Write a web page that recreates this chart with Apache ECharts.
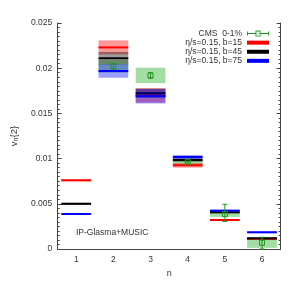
<!DOCTYPE html>
<html>
<head>
<meta charset="utf-8">
<script src="https://cdn.jsdelivr.net/npm/echarts@6/dist/echarts.min.js"></script>
<style>html,body{margin:0;padding:0;background:#fff}#c{width:291px;height:291px}</style>
</head>
<body>
<div id="c"></div>
<script>
// ---- data ----
const categories = ['1', '2', '3', '4', '5', '6'];
const yTicks = [0, 0.005, 0.01, 0.015, 0.02, 0.025];

const b15Vals = [0.0076, 0.0223, 0.0170, 0.00926, 0.00321, 0.00114];
const b15Errs = [0.00012, 0.00078, 0.0008, 0.00026, 0.00008, 0.0001];
const b45Vals = [0.0050, 0.0211, 0.01724, 0.00985, 0.00406, 0.00118];
const b45Errs = [0.00012, 0.0007, 0.0005, 0.0002, 0.0001, 0.0001];
const b75Vals = [0.00387, 0.01969, 0.0169, 0.01018, 0.00424, 0.00185];
const b75Errs = [0.0001, 0.00075, 0.0008, 0.00022, 0.0001, 0.0001];

const cmsN = ['2', '3', '4', '5', '6'];
const cmsVals = [0.0202, 0.0192, 0.0096, 0.00385, 0.0007];
const cmsStatUp = [0.0003, 0.0003, 0.0001, 0.0011, 0.0006];
const cmsStatDown = [0.0003, 0.0003, 0.0001, 0.0008, 0.0007];
const cmsSys = [0.0007, 0.00085, 0.0003, 0.0003, 0.00058];

const FONT = 'Liberation Sans';
const TXT = '#333';
const AX = '#444';
const GREEN = '#1e961e';

function modelSeries(name, color, band, vals, errs) {
  return {
    type: 'custom', name: name, z: 3,
    itemStyle: { color: color },
    data: vals.map((v, i) => [i, v, errs[i]]),
    encode: { x: 0, y: 1 },
    renderItem: function (params, api) {
      const x = api.value(0), v = api.value(1), e = api.value(2);
      const c = api.coord([x, v]);
      const hi = api.coord([x, v + e]);
      const lo = api.coord([x, v - e]);
      const bw = api.size([1, 0])[0] * 0.8;
      return { type: 'group', children: [
        { type: 'rect', shape: { x: c[0] - bw / 2, y: hi[1], width: bw, height: lo[1] - hi[1] }, style: { fill: band } },
        { type: 'line', shape: { x1: c[0] - bw / 2, y1: c[1], x2: c[0] + bw / 2, y2: c[1] }, style: { stroke: color, lineWidth: 2 } }
      ]};
    }
  };
}

const cmsIdx = cmsN.map(n => categories.indexOf(n));

const cmsSysSeries = {
  type: 'custom', name: 'CMS  0-1%', z: 2,
  itemStyle: { color: GREEN },
  data: cmsIdx.map((x, i) => [x, cmsVals[i], cmsSys[i]]),
  encode: { x: 0, y: 1 },
  renderItem: function (params, api) {
    const x = api.value(0), v = api.value(1), e = api.value(2);
    const c = api.coord([x, v]);
    const hi = api.coord([x, v + e]);
    const lo = api.coord([x, v - e]);
    const bw = api.size([1, 0])[0] * 0.8;
    return { type: 'rect', shape: { x: c[0] - bw / 2, y: hi[1], width: bw, height: lo[1] - hi[1] }, style: { fill: 'rgba(0,160,0,0.36)' } };
  }
};

const cmsPointSeries = {
  type: 'custom', name: 'CMS  0-1%', z: 4,
  itemStyle: { color: GREEN },
  data: cmsIdx.map((x, i) => [x, cmsVals[i], cmsStatUp[i], cmsStatDown[i]]),
  encode: { x: 0, y: 1 },
  renderItem: function (params, api) {
    const x = api.value(0), v = api.value(1);
    const c = api.coord([x, v]);
    const hi = api.coord([x, v + api.value(2)]);
    const lo = api.coord([x, v - api.value(3)]);
    const s = 5, cap = 2.5;
    const st = { stroke: GREEN, lineWidth: 1 };
    return { type: 'group', children: [
      { type: 'line', shape: { x1: c[0], y1: hi[1], x2: c[0], y2: lo[1] }, style: st },
      { type: 'line', shape: { x1: c[0] - cap, y1: hi[1], x2: c[0] + cap, y2: hi[1] }, style: st },
      { type: 'line', shape: { x1: c[0] - cap, y1: lo[1], x2: c[0] + cap, y2: lo[1] }, style: st },
      { type: 'rect', shape: { x: c[0] - s / 2, y: c[1] - s / 2, width: s, height: s }, style: { fill: 'none', stroke: GREEN, lineWidth: 1 } }
    ]};
  }
};

const rectIcon = 'path://M0,0 L22,0 L22,4 L0,4 Z';
const cmsIcon = 'path://M0,1 L0.9,1 L0.9,2.55 L8.5,2.55 L8.5,0 L13.5,0 L13.5,2.55 L21.1,2.55 L21.1,1 L22,1 L22,5 L21.1,5 L21.1,3.45 L13.5,3.45 L13.5,6 L8.5,6 L8.5,3.45 L0.9,3.45 L0.9,5 L0,5 Z ' +
  'M9.4,0.9 L9.4,5.1 L12.6,5.1 L12.6,0.9 Z M10.6,2.6 L11.4,2.6 L11.4,3.4 L10.6,3.4 Z';

const option = {
  animation: false,
  backgroundColor: '#fff',
  textStyle: { fontFamily: FONT },
  grid: { left: 53.4, right: 10.4, top: 23, bottom: 42, containLabel: false },
  legend: {
    orient: 'vertical', right: 22, top: 29, padding: 0,
    align: 'right', itemWidth: 22, itemHeight: 6, itemGap: 0,
    selectedMode: false,
    textStyle: { fontFamily: FONT, fontSize: 8.5, color: TXT, lineHeight: 9.1 },
    data: [
      { name: 'CMS  0-1%', icon: cmsIcon },
      { name: 'η/s=0.15, b=15', icon: rectIcon },
      { name: 'η/s=0.15, b=45', icon: rectIcon },
      { name: 'η/s=0.15, b=75', icon: rectIcon }
    ]
  },
  xAxis: [
    {
      type: 'category', data: categories, position: 'bottom',
      name: 'n', nameLocation: 'middle', nameGap: 19,
      nameTextStyle: { fontFamily: FONT, fontSize: 9, color: TXT },
      axisLine: { lineStyle: { color: AX, width: 1 } },
      axisTick: { inside: true, alignWithLabel: true, length: 4, lineStyle: { color: AX } },
      axisLabel: { fontFamily: FONT, fontSize: 8.5, color: TXT, margin: 6 },
      splitLine: { show: false }
    },
    {
      type: 'category', data: categories, position: 'top',
      axisLine: { lineStyle: { color: AX, width: 1 } },
      axisTick: { inside: true, alignWithLabel: true, length: 4, lineStyle: { color: AX } },
      axisLabel: { show: false },
      splitLine: { show: false }
    }
  ],
  yAxis: [
    {
      type: 'value', min: yTicks[0], max: yTicks[yTicks.length - 1], interval: yTicks[1] - yTicks[0],
      position: 'left',
      name: 'v{s|n}{2}', nameLocation: 'middle', nameGap: 37, nameRotate: 90,
      nameTextStyle: { fontFamily: FONT, fontSize: 9.5, color: TXT, lineHeight: 12,
        rich: { s: { fontFamily: FONT, fontSize: 7, color: TXT, verticalAlign: 'bottom', lineHeight: 12, padding: [4, 0, 0, 0] } } },
      axisLine: { show: true, lineStyle: { color: AX, width: 1 } },
      axisTick: { show: true, inside: true, length: 4, lineStyle: { color: AX } },
      minorTick: { show: true, splitNumber: 10, length: 2, lineStyle: { color: AX } },
      axisLabel: { fontFamily: FONT, fontSize: 8.5, color: TXT, margin: 5.5,
        formatter: v => String(parseFloat(v.toFixed(4))) },
      splitLine: { show: false }, minorSplitLine: { show: false }
    },
    {
      type: 'value', min: yTicks[0], max: yTicks[yTicks.length - 1], interval: yTicks[1] - yTicks[0],
      position: 'right',
      axisLine: { show: true, lineStyle: { color: AX, width: 1 } },
      axisTick: { show: true, inside: true, length: 4, lineStyle: { color: AX } },
      minorTick: { show: true, splitNumber: 10, length: 2, lineStyle: { color: AX } },
      axisLabel: { show: false },
      splitLine: { show: false }, minorSplitLine: { show: false }
    }
  ],
  graphic: [
    { type: 'text', left: 76, top: 228.5,
      style: { text: 'IP-Glasma+MUSIC', fontFamily: FONT, fontSize: 8.5, fill: TXT } }
  ],
  series: [
    cmsSysSeries,
    modelSeries('η/s=0.15, b=15', '#ff0000', 'rgba(255,0,0,0.4)', b15Vals, b15Errs),
    modelSeries('η/s=0.15, b=45', '#000000', 'rgba(0,0,0,0.38)', b45Vals, b45Errs),
    modelSeries('η/s=0.15, b=75', '#0000ff', 'rgba(0,0,255,0.38)', b75Vals, b75Errs),
    cmsPointSeries
  ]
};

const chart = echarts.init(document.getElementById('c'), null, { renderer: 'canvas' });
chart.setOption(option);
</script>
</body>
</html>
